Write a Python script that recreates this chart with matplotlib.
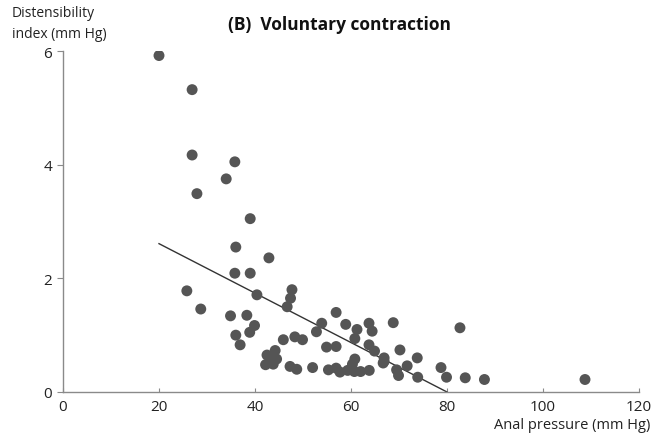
import matplotlib
matplotlib.use("Agg")
import matplotlib.pyplot as plt

# Data
anal_pressure = [20.0, 26.9, 26.9, 35.8, 34.0, 27.9, 39.0, 36.0, 42.9, 35.8, 39.0,
                 25.8, 40.4, 28.7, 34.9, 38.3, 39.9, 36.0, 38.9, 36.9, 42.2,
                 47.7, 47.4, 46.7, 56.9, 53.9, 58.9, 63.75, 52.8, 61.25, 64.4,
                 60.8, 48.3, 49.9, 45.9, 54.9, 56.9, 63.75, 64.9, 66.9,
                 44.2, 44.5, 43.8, 47.3, 48.7, 52.0, 55.3, 56.9, 57.7, 59.3,
                 60.3, 60.8, 60.7, 62.0, 63.8,
                 68.8, 82.7, 70.2, 66.9, 66.7, 73.8, 71.7, 69.5, 69.9, 78.75,
                 73.9, 79.9, 83.8, 87.8, 108.75, 42.5, 43.5]
distensibility = [5.92, 5.32, 4.17, 4.05, 3.75, 3.49, 3.05, 2.55, 2.36, 2.09, 2.09,
                  1.78, 1.71, 1.46, 1.34, 1.35, 1.17, 1.00, 1.05, 0.83, 0.48,
                  1.80, 1.65, 1.50, 1.40, 1.21, 1.19, 1.21, 1.06, 1.10, 1.07,
                  0.94, 0.97, 0.92, 0.92, 0.79, 0.80, 0.83, 0.72, 0.54,
                  0.73, 0.58, 0.49, 0.45, 0.40, 0.43, 0.39, 0.42, 0.35, 0.38,
                  0.49, 0.58, 0.36, 0.36, 0.38,
                  1.22, 1.13, 0.74, 0.60, 0.51, 0.60, 0.46, 0.39, 0.29, 0.43,
                  0.26, 0.26, 0.25, 0.22, 0.22, 0.65, 0.60]
fit_x = [20, 80]
fit_y = [2.61, 0.0]
x_ticks = [0, 20, 40, 60, 80, 100, 120]
y_ticks = [0, 2, 4, 6]

plt.rcParams['font.family'] = ['Open Sans', 'DejaVu Sans']

fig = plt.figure(figsize=(6.51, 4.39), dpi=100)
ax = fig.add_axes([63/651, 1 - 393/439, (639-63)/651, (393-52)/439])

ax.plot(fit_x, fit_y, color='#333333', lw=1.0, zorder=2)
ax.scatter(anal_pressure, distensibility, s=62, color='#555555', edgecolors='none', zorder=3)

ax.set_xlim(0, 120)
ax.set_ylim(0, 6)
ax.set_xticks(x_ticks)
ax.set_yticks(y_ticks)
ax.set_xticklabels([str(v) for v in x_ticks])
ax.set_yticklabels([str(v) for v in y_ticks])

for s in ['top', 'right']:
    ax.spines[s].set_visible(False)
for s in ['left', 'bottom']:
    ax.spines[s].set_color('#8a8a8a')
    ax.spines[s].set_linewidth(1.0)
ax.tick_params(axis='x', direction='in', length=3, color='#8a8a8a', labelsize=11,
               pad=5, labelcolor='#222222')
ax.tick_params(axis='y', direction='out', length=4, color='#8a8a8a', labelsize=11,
               pad=4, labelcolor='#222222')

fig.text(12/651, 1 - 6/439, "Distensibility\nindex (mm Hg)", ha='left', va='top',
         fontsize=10, color='#222222', linespacing=1.55)
fig.text(340/651, 1 - 25/439, "(B)  Voluntary contraction", ha='center', va='center',
         fontsize=12.5, fontweight='bold', color='#111111')
fig.text(650/651, 1 - 426/439, "Anal pressure (mm Hg)", ha='right', va='center',
         fontsize=10.5, color='#222222')

fig.savefig("out.png", dpi=100)
